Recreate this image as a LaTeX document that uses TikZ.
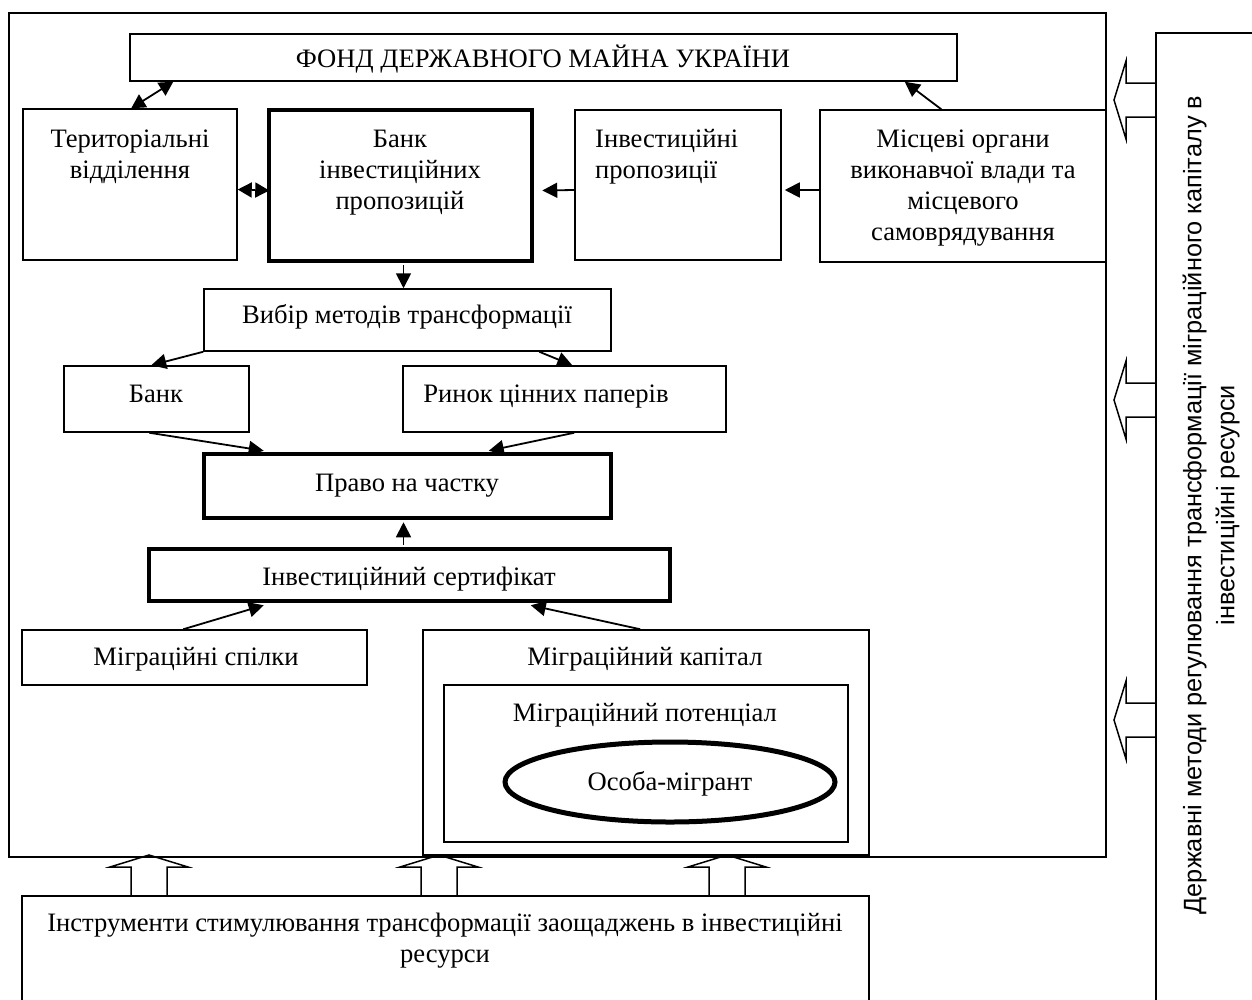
\documentclass[tikz,border=0pt]{standalone}
\usepackage{fontspec}
\setmainfont{Liberation Serif}
\newfontfamily\vsans{Liberation Sans}
\usetikzlibrary{arrows.meta,calc,shapes.geometric}
\newcommand\mybox[6]{\node[#6,minimum width={#4-#2},minimum height={#5-#3}] (#1) at ({(#2+#4)/2},{(#3+#5)/2}) {};}
\begin{document}
\begin{tikzpicture}[x=1pt,y=-1pt,
 box/.style={draw,line width=1.5pt,inner sep=0pt},
 thickbox/.style={draw,line width=4.5pt,inner sep=0pt},
 txt/.style={font=\fontsize{26.6}{31}\selectfont,align=center,inner sep=0pt,anchor=base},
 con/.style={line width=1.8pt,-{Triangle[length=15pt,width=15pt]}},
 dcon/.style={line width=1.8pt,{Triangle[length=14pt,width=15pt]}-{Triangle[length=14pt,width=15pt]}},
 blk/.style={draw,line width=1.5pt,line join=miter}]
\clip (0,0) rectangle (1252,999);
\fill[white] (0,0) rectangle (1252,999);
% boxes
\mybox{frame}{9}{13}{1106}{857}{box}
\mybox{fond}{130}{34}{957}{81}{box}
\mybox{ter}{23}{109}{237}{260}{box}
\mybox{bank}{269}{110}{532}{261}{thickbox}
\mybox{inv}{575}{110}{781}{260}{box}
\mybox{misc}{820}{110}{1106}{262}{box}
\mybox{vybir}{204}{289}{611}{351}{box}
\mybox{bankk}{64}{366}{249}{432}{box}
\mybox{rynok}{403}{366}{726}{432}{box}
\mybox{pravo}{204}{454}{611}{518}{thickbox}
\mybox{cert}{149}{549}{670}{601}{thickbox}
\mybox{spilky}{22}{630}{367}{685}{box}
\mybox{kapital}{423}{630}{869}{855}{box}
\mybox{potencial}{444}{685}{848}{842}{box}
\mybox{bottom}{22}{896}{869}{1012}{box}
\mybox{right}{1156}{33}{1264}{1012}{box}
\node[ellipse,draw,line width=5pt,minimum width=330,minimum height=80] (osoba) at (670,782) {};
% texts (anchor=base is the baseline of the last line)
\node[txt] (tfond) at (543,67) {ФОНД ДЕРЖАВНОГО МАЙНА УКРАЇНИ};
\node[txt] (tter) at (130,178) {Територіальні\\відділення};
\node[txt] (tbank) at (400,209) {Банк\\інвестиційних\\пропозицій};
\node[txt,align=left,anchor=base west] (tinv) at (595,178) {Інвестиційні\\пропозиції};
\node[txt] (tmisc) at (963,240) {Місцеві органи\\виконавчої влади та\\місцевого\\самоврядування};
\node[txt] (tvybir) at (407,323) {Вибір методів трансформації};
\node[txt] (tbankk) at (156,402) {Банк};
\node[txt] (trynok) at (546,402) {Ринок цінних паперів};
\node[txt] (tpravo) at (407,491) {Право на частку};
\node[txt] (tcert) at (409,585) {Інвестиційний сертифікат};
\node[txt] (tspilky) at (196,665) {Міграційні спілки};
\node[txt] (tkapital) at (645,665) {Міграційний капітал};
\node[txt] (tpotencial) at (645,721) {Міграційний потенціал};
\node[txt] (tosoba) at (670,790) {Особа-мігрант};
\node[txt] (tbottom) at (445,962) {Інструменти стимулювання трансформації заощаджень в інвестиційні\\ресурси};
\node[rotate=90,font=\vsans\fontsize{25.3}{33}\selectfont,align=center,inner sep=0pt] (tright) at (1211,505) {Державні методи регулювання трансформації міграційного капіталу в\\інвестиційні ресурси};
% connectors
\draw[dcon] ($(ter.north west)+(109,0)$) -- ($(fond.south west)+(44,0)$);
\draw[dcon] ($(ter.east)+(0,5)$) -- ($(bank.east)+(-265,5)$);
\draw[con] ($(inv.west)+(0,5)$) -- ($(bank.east)+(8,5)$);
\draw[con] ($(misc.west)+(0,4)$) -- ($(inv.east)+(3,5)$);
\draw[con] ($(misc.north west)+(122,0)$) -- ($(fond.south east)+(-53,0)$);
\draw[con] ($(bank.south)+(3,2)$) -- ($(vybir.north)+(-4,0)$);
\draw[con] (vybir.south west) -- ($(bankk.north west)+(88,0)$);
\draw[con] ($(vybir.south west)+(336,0)$) -- ($(rynok.north west)+(170,0)$);
\draw[con] ($(bankk.south west)+(86,0)$) -- ($(pravo.north west)+(62,-1)$);
\draw[con] ($(rynok.south west)+(172,0)$) -- ($(pravo.north west)+(287,-1)$);
\draw[con] ($(cert.north)+(-6,-2)$) -- ($(pravo.south)+(-4,2)$);
\draw[con] ($(spilky.north west)+(162,0)$) -- ($(cert.south west)+(117,2)$);
\draw[con] ($(kapital.north west)+(218,0)$) -- ($(cert.south west)+(384,2)$);
% block arrows up
\foreach \cx in {149,439,727}{
 \draw[blk] (\cx-18,896) -- (\cx-18,867) -- (\cx-39,867) -- (\cx,855) -- (\cx+39,867) -- (\cx+18,867) -- (\cx+18,896);
}
% block arrows left
\foreach \cy in {100,400,720}{
 \draw[blk] (1156,\cy-17) -- (1126,\cy-17) -- (1126,\cy-39) -- (1114,\cy) -- (1126,\cy+39) -- (1126,\cy+17) -- (1156,\cy+17);
}
\end{tikzpicture}
\end{document}
